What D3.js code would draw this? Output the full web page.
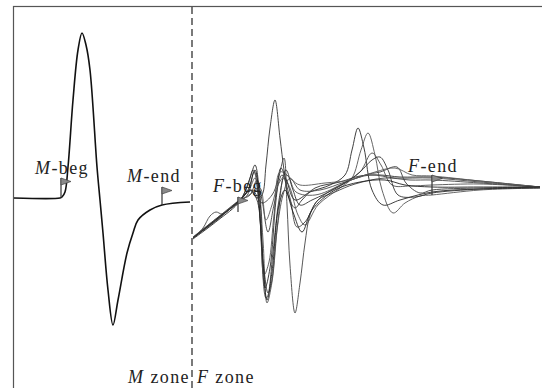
<!DOCTYPE html>
<html>
<head>
<meta charset="utf-8">
<script src="https://cdn.jsdelivr.net/npm/d3@7"></script>
<style>
  body { margin: 0; background: #fff; }
  svg text { font-family: "Liberation Serif", "DejaVu Serif", serif; font-size: 18px; fill: #222; letter-spacing: 1.4px; }
</style>
</head>
<body>
<svg id="chart" width="542" height="388"></svg>
<script>
// time (ms-like units) and amplitude
const mWave = [[0, 0], [23, 0], [24, 0.1], [25.5, 0.6], [27, 3.1], [29.5, 9.8], [32, 14.8], [34, 16.5],
  [36, 15.3], [38, 12.8], [41.5, 3.1], [43, -0.2], [44.5, -3.5], [47, -9.2], [49.5, -12.7], [52, -10.2],
  [56.5, -5.5], [59.5, -3.5], [62, -2.2], [68, -1.2], [74, -0.7], [88, -0.4]];

const fWave1 = [[89.5, -4.0], [101.5, -2.1], [113, -0.3], [118, 0.8], [121.5, 0], [124, 0.3], [126, 3.3], [128, 7.0],
  [130.5, 9.8], [133, 6.0], [135, 2.8], [137, 0.3], [140.5, -1.0], [144, -0.2], [150.5, 1.0], [163, 1.6],
  [173, 2.2], [183, 2.3], [193, 2.1], [209, 2.1], [233, 1.7], [263, 1.1]];
const fWave2 = [[89.5, -3.9], [101.5, -2.2], [113, -0.2], [119, 0.8], [124, -0.5], [129, 0.3], [132, 1.8], [135, 4.0],
  [136.5, -0.7], [138, -6.7], [140.5, -11.5], [143, -8.5], [145.5, -4.5], [148, -1.7], [152, -0.2], [160.5, 0.6],
  [170.5, 1.4], [185.5, 2.0], [198, 1.8], [209, 1.8], [233, 1.5], [263, 1.1]];
const fWave3 = [[89.5, -4.0], [101.5, -2.0], [113, -0.2], [117, 1.3], [119.5, 2.8], [122, 1.6], [124.5, -4.2], [126.5, -10.5],
  [129, -8.4], [132, -2.2], [135, 2.0], [138, 1.0], [142, -1.7], [145.5, -2.7], [152, -0.7], [163, 1.0], [169, 2.0],
  [173.5, 4.8], [177, 6.5], [180.5, 4.3], [184, 0.8], [189.5, -1.5], [195.5, -0.5], [203, 0.2], [209, 0.3], [233, 0.8], [263, 1.0]];
const fWave4 = [[89.5, -4.1], [101.5, -2.3], [113, -0.3], [118, 2.0], [120.5, 3.3], [123, -0.2], [125.5, -9.0], [128, -7.0],
  [131, -0.2], [133.5, 3.0], [136.5, 1.6], [140.5, -0.2], [148, 0.6], [158, 1.3], [165.5, 2.3], [169, 4.8], [172, 7.0],
  [175, 5.0], [179, 0.8], [184.5, -0.7], [193, -0.2], [209, 0.6], [233, 0.9], [263, 1.0]];
const fWave5 = [[89.5, -4.0], [101.5, -2.2], [113, -0.1], [117.5, 0.8], [120.5, 2.0], [123, -1.7], [125, -7.7], [127.5, -6.4],
  [130, -1.7], [133, 2.6], [137, 2.2], [141, 0.6], [150.5, 0.3], [163, 1.3], [173, 2.6], [179, 4.5], [183.5, 3.3],
  [189, 1.3], [198, 1.2], [209, 1.3], [233, 1.4], [263, 1.1]];
const fWave6 = [[89.5, -3.9], [101.5, -2.0], [113, -0.2], [118, 0.3], [121.5, 1.8], [124, -0.2], [127, -3.4], [130, -0.7],
  [134, 2.3], [138, 0], [141.5, -2.9], [145.5, -2.4], [152, -0.2], [165.5, 1.5], [175.5, 2.3], [183, 2.6], [191.5, 3.1],
  [196, 1.5], [203, 0.5], [209, 0.8], [233, 1.0], [263, 1.1]];
const fWave7 = [[89.5, -4.0], [94.5, -3.0], [98, -1.8], [101, -1.4], [104, -1.6], [108, -1.1], [113, -0.4], [117, 0.4],
  [120, 2.6], [122.5, -0.7], [126, -10.0], [128.5, -8.7], [131.5, -3.2], [134.5, 0.3], [138, 2.0], [143, 0.8],
  [153, 0.8], [165.5, 1.6], [178, 2.3], [190.5, 2.0], [209, 2.0], [233, 1.6], [263, 1.1]];
const fWave8 = [[89.5, -4.0], [101.5, -2.1], [113, -0.2], [118, 0.8], [121.5, -0.2], [124.5, -6.4], [127, -9.5], [129.5, -5.4],
  [132.5, -0.2], [136, 2.8], [139.5, 0.8], [143, -0.7], [149, -0.2], [163, 1.2], [173, 2.6], [179, 3.8], [183, 4.1],
  [187, 2.8], [192, 0.3], [200.5, 0.1], [209, 0.5], [233, 0.9], [263, 1.1]];
const fWave9 = [[89.5, -4.0], [101.5, -2.1], [113, -0.3], [119, 0.5], [123, 1.0], [126, -2.2], [129, -0.7], [132, 1.3],
  [136, 2.3], [139, 1.8], [143, 1.3], [155.5, 1.5], [168, 1.8], [180.5, 2.6], [190.5, 3.0], [199, 2.3], [209, 2.2],
  [233, 1.7], [263, 1.1]];
const fWave10 = [[89.5, -4.0], [101.5, -2.1], [113, -0.2], [117, 0.8], [120.5, 2.8], [123.5, -3.4], [126.5, -10.2], [129, -7.4],
  [132.5, -0.7], [135.5, 0.8], [139.5, -1.4], [144, -3.4], [149, -1.2], [160.5, 0.8], [173, 1.6], [185.5, 1.8],
  [195.5, 1.3], [209, 1.1], [233, 1.1], [263, 1.1]];

const zoneSplit = 89;
const markerNames = ['M', 'M', 'F', 'F'];
const markerSuffix = ['-beg', '-end', '-beg', '-end'];
const markerTimes = [23.5, 74, 112, 209];
const markerBase = [0, -0.7, -1.4, 0.3];
const markerTop = [2.0, 1.1, 0.1, 2.3];
const zoneLabels = [['M', ' zone'], ['F', ' zone']];

const svg = d3.select('#chart');
const x = d3.scaleLinear().domain([0, 264]).range([14, 542]);
const y = d3.scaleLinear().domain([-10, 10]).range([298, 98]);

svg.append('rect').attr('width', 542).attr('height', 388).attr('fill', '#fff');

// frame (runs off the right / bottom of the crop)
svg.append('rect')
  .attr('x', 13.5).attr('y', 6.5).attr('width', 700).attr('height', 600)
  .attr('fill', 'none').attr('stroke', '#555').attr('stroke-width', 1.2);

const line = d3.line()
  .x(d => x(d[0]))
  .y(d => y(d[1]))
  .curve(d3.curveCatmullRom.alpha(0.5));

const fWaves = [fWave1, fWave2, fWave3, fWave4, fWave5, fWave6, fWave7, fWave8, fWave9, fWave10];
const greys = ['#333', '#444', '#555', '#2a2a2a', '#505050', '#3c3c3c', '#484848', '#333', '#5a5a5a', '#222'];

svg.append('g').selectAll('path')
  .data(fWaves)
  .enter().append('path')
  .attr('d', line)
  .attr('fill', 'none')
  .attr('stroke', (d, i) => greys[i])
  .attr('stroke-width', 0.9);

svg.append('path')
  .datum(mWave)
  .attr('d', line)
  .attr('fill', 'none')
  .attr('stroke', '#111')
  .attr('stroke-width', 1.6);

// zone divider
svg.append('line')
  .attr('x1', x(zoneSplit)).attr('x2', x(zoneSplit))
  .attr('y1', 7).attr('y2', 388)
  .attr('stroke', '#333').attr('stroke-width', 1.3)
  .attr('stroke-dasharray', '7,4');

// flags
const flags = svg.append('g').selectAll('g')
  .data(markerTimes)
  .enter().append('g');

flags.append('line')
  .attr('x1', d => x(d)).attr('x2', d => x(d))
  .attr('y1', (d, i) => y(markerBase[i]))
  .attr('y2', (d, i) => y(markerTop[i]))
  .attr('stroke', '#333').attr('stroke-width', 1.2);

flags.append('path')
  .attr('d', (d, i) => {
    const px = x(d), py = y(markerTop[i]);
    return 'M' + px + ',' + py + 'L' + (px + 10) + ',' + (py + 3.5) + 'L' + px + ',' + (py + 7) + 'Z';
  })
  .attr('fill', '#8a8a8a').attr('stroke', '#444').attr('stroke-width', 0.7);

// label offsets from the flag top
const labelDx = [-26, -35, -25, -24];
const labelDy = [-4, -5.5, -5, -3];

const labels = svg.append('g').selectAll('text')
  .data(markerTimes)
  .enter().append('text')
  .attr('x', (d, i) => x(d) + labelDx[i])
  .attr('y', (d, i) => y(markerTop[i]) + labelDy[i]);
labels.append('tspan').attr('font-style', 'italic').text((d, i) => markerNames[i]);
labels.append('tspan').text((d, i) => markerSuffix[i]);

// zone names under the divider
const zoneText = svg.append('g').selectAll('text')
  .data(zoneLabels)
  .enter().append('text')
  .attr('x', (d, i) => i === 0 ? x(zoneSplit) - 2 : x(zoneSplit) + 5)
  .attr('y', 383)
  .attr('text-anchor', (d, i) => i === 0 ? 'end' : 'start');
zoneText.append('tspan').attr('font-style', 'italic').text(d => d[0]);
zoneText.append('tspan').text(d => d[1]);
</script>
</body>
</html>
